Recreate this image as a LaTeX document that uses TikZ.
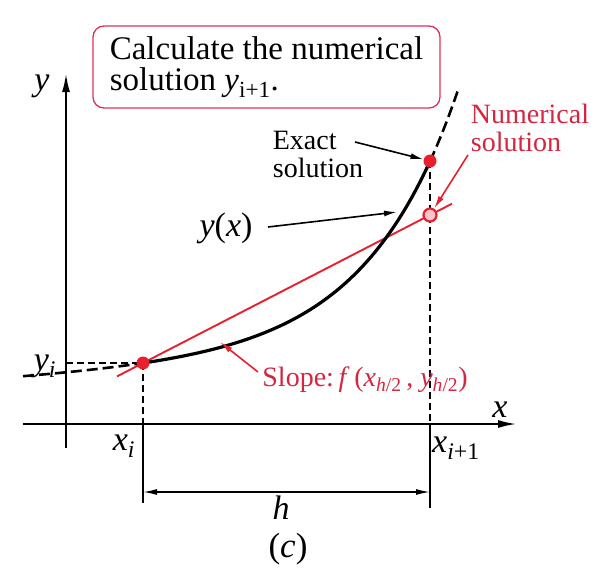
\documentclass[tikz,border=0pt]{standalone}
\usepackage{fontspec}
\setmainfont{Liberation Serif}
\usetikzlibrary{arrows.meta}
\definecolor{linered}{HTML}{E8202E}
\definecolor{textred}{HTML}{D42640}
\definecolor{boxred}{HTML}{E0305A}
\newcommand{\mi}[1]{\textit{#1}}
\tikzset{
  axis/.style={line width=1.6pt, -{Latex[length=18pt,width=8pt]}},
  curve/.style={line width=3.2pt, line cap=round},
  curveext/.style={line width=2.6pt, dash pattern=on 11pt off 5pt},
  guide/.style={line width=1.5pt, dash pattern=on 7pt off 4pt},
  tick/.style={line width=1.5pt},
  pointer/.style={line width=1.6pt, -{Latex[length=13pt,width=6pt]}},
  redpointer/.style={pointer, draw=linered},
  slopeline/.style={line width=1.9pt, draw=linered},
  soldot/.style={circle, fill=linered, inner sep=0pt, minimum size=13pt},
  numdot/.style={circle, draw=linered, line width=2.2pt, fill=linered!25, inner sep=0pt, minimum size=13pt},
  notebox/.style={draw=boxred, rounded corners=11pt, line width=1.3pt, align=left,
    minimum width=347pt, minimum height=82pt, inner xsep=8pt, font=\fontsize{33}{31}\selectfont},
  lbl/.style={inner sep=0pt, align=left, font=\fontsize{28}{28}\selectfont},
  mathlbl/.style={inner sep=0pt, font=\fontsize{34}{34}\selectfont}
}

\begin{document}
\begin{tikzpicture}[x=1pt, y=-1pt, font=\fontsize{28}{28}\selectfont]
  \useasboundingbox (0,0) rectangle (602,568);

  % axes
  \coordinate (xstart) at (23,424);
  \coordinate (xend) at (516,424);
  \coordinate (ystart) at (66,448);
  \coordinate (yend) at (66,74);
  \draw[axis] (xstart) -- (xend);
  \draw[axis] (ystart) -- (yend);
  \node[mathlbl] (ylbl) at (42,86) {\mi{y}};
  \node[mathlbl] (xlbl) at (500,410) {\mi{x}};

  % points on the curve
  \coordinate (xi) at (143,363);
  \coordinate (exactpt) at (430,161);
  \coordinate (numpt) at (430,215);
  \coordinate (xiaxis) at (143,424);
  \coordinate (xibot) at (143,503);
  \coordinate (xnaxis) at (430,424);
  \coordinate (xnbot) at (430,508);
  \coordinate (yiaxis) at (66,363);

  % guide lines
  \draw[guide] (yiaxis) -- (xi);
  \draw[guide] (xi) -- (xiaxis);
  \draw[tick] (xiaxis) -- (xibot);
  \draw[guide] (exactpt) -- (xnaxis);
  \draw[tick] (xnaxis) -- (xnbot);

  % midpoint slope step
  \coordinate (slopestart) at (117,376.4);
  \coordinate (slopeend) at (452,203.7);
  \draw[slopeline] (slopestart) -- (slopeend);

  % exact solution y(x)
  \draw[curveext] plot[domain=-120:0, samples=30]
    ({143+\x},{363-0.15*\x-8.2*(exp(0.011*\x)-1-0.011*\x)});
  \draw[curve] plot[domain=0:287, samples=80]
    ({143+\x},{363-0.15*\x-8.2*(exp(0.011*\x)-1-0.011*\x)});
  \draw[curveext] plot[domain=287:316, samples=12]
    ({143+\x},{363-0.15*\x-8.2*(exp(0.011*\x)-1-0.011*\x)});

  \node[soldot] (xidot) at (xi) {};
  \node[soldot] (exact) at (exactpt) {};
  \node[numdot] (numer) at (numpt) {};

  % labels on the axes
  \node[mathlbl] (yilbl) at (45,366) {\mi{y}\textsubscript{\mi{i}}};
  \node[mathlbl] (xilbl) at (124,446) {\mi{x}\textsubscript{\mi{i}}};
  \node[mathlbl] (xnlbl) at (456,448) {\mi{x}\textsubscript{\mi{i}+1}};

  % step width
  \coordinate (hleft) at (143,492);
  \coordinate (hright) at (430,492);
  \draw[line width=1.5pt, {Latex[length=14pt,width=6pt]}-{Latex[length=14pt,width=6pt]}] (hleft) -- (hright);
  \node[mathlbl] (hlbl) at (281,508) {\mi{h}};
  \node[inner sep=0pt, font=\fontsize{35}{35}\selectfont] (caption) at (288,549) {(\mi{c})};

  % note box
  \node[notebox] (calc) at (266.5,67) {Calculate the numerical\\solution \mi{y}\textsubscript{i+1}.};

  % exact solution label
  \node[lbl] (exactlbl) at (318,154) {Exact\\solution};
  \coordinate (exactsrc) at (355,142);
  \draw[pointer] (exactsrc) -- (exact);

  % numerical solution label
  \node[lbl, text=textred] (numlbl) at (530,128) {Numerical\\solution};
  \coordinate (numsrc) at (468,155);
  \draw[redpointer] (numsrc) -- (numer);

  % y(x) label
  \node[mathlbl] (yxlbl) at (226,228) {\mi{y}(\mi{x})};
  \coordinate (yxsrc) at (268,227);
  \coordinate (yxtip) at (397,212);
  \draw[pointer] (yxsrc) -- (yxtip);

  % slope label
  \node[lbl, text=textred] (slopelbl) at (365,380) {Slope:\,\mi{f}\,(\mi{x}\textsubscript{\mi{h}/2}\,, \mi{y}\textsubscript{\mi{h}/2})};
  \coordinate (slopesrc) at (258,372);
  \coordinate (slopetip) at (220,342);
  \draw[redpointer] (slopesrc) -- (slopetip);
\end{tikzpicture}
\end{document}
